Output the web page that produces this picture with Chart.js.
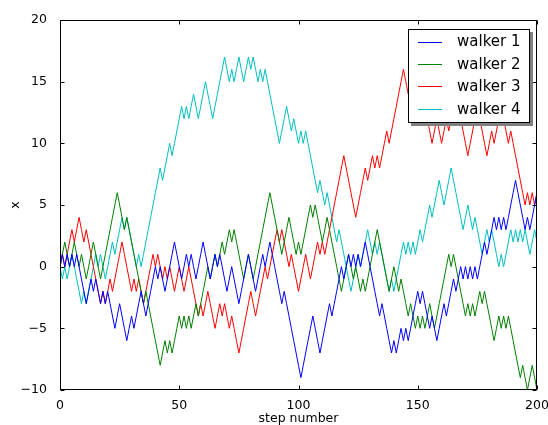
<!DOCTYPE html>
<html><head><meta charset="utf-8">
<script src="https://cdn.jsdelivr.net/npm/chart.js@4.4.1/dist/chart.umd.min.js"></script>
<style>html,body{margin:0;padding:0;background:#fff;}canvas{display:block;}</style>
</head><body>
<canvas id="c" width="548" height="425"></canvas>
<script>
// ---- data ----
const walker1 = [
  0,1,0,1,0,1,0,1,0,-1,
  -2,-3,-2,-1,-2,-1,-2,-3,-2,-3,
  -2,-3,-4,-5,-4,-3,-4,-5,-6,-5,
  -4,-5,-4,-3,-2,-3,-4,-3,-2,-1,
  0,-1,0,-1,-2,-1,0,1,2,1,
  0,-1,0,1,0,1,0,-1,0,1,
  2,1,0,-1,0,1,0,1,0,-1,
  -2,-1,0,-1,-2,-3,-2,-1,0,1,
  0,-1,-2,-1,0,1,0,1,2,1,
  0,-1,-2,-3,-2,-3,-4,-5,-6,-7,
  -8,-9,-8,-7,-6,-5,-4,-5,-6,-7,
  -6,-5,-4,-3,-4,-3,-2,-1,0,-1,
  0,1,0,1,0,1,0,1,2,1,
  0,-1,-2,-3,-4,-3,-4,-5,-6,-7,
  -6,-7,-6,-5,-6,-5,-6,-5,-4,-3,
  -2,-3,-2,-3,-4,-5,-4,-5,-6,-5,
  -4,-3,-4,-3,-2,-1,-2,-1,0,-1,
  0,-1,0,-1,0,-1,0,1,2,1,
  2,3,4,3,4,3,4,3,4,5,
  6,7,6,5,4,3,4,3,4,5,
  6
];
const walker2 = [
  0,1,2,1,0,1,2,1,0,1,
  0,-1,0,1,2,1,0,-1,0,1,
  2,3,4,5,6,5,4,3,4,3,
  2,1,0,-1,-2,-3,-2,-3,-4,-5,
  -6,-7,-8,-7,-6,-7,-6,-7,-6,-5,
  -4,-5,-4,-5,-4,-5,-4,-3,-4,-3,
  -2,-1,0,-1,0,1,0,1,2,1,
  2,3,2,3,2,1,0,-1,0,1,
  0,-1,0,1,2,3,4,5,6,5,
  4,3,2,1,2,3,4,3,2,1,
  2,1,2,3,4,5,4,5,4,3,
  2,3,4,3,2,1,0,-1,-2,-1,
  0,1,0,-1,0,-1,-2,-1,-2,-1,
  0,1,2,3,2,1,0,-1,-2,-1,
  0,-1,-2,-1,-2,-3,-4,-3,-4,-5,
  -4,-5,-4,-5,-4,-3,-4,-5,-4,-3,
  -2,-1,0,1,0,1,0,-1,-2,-3,
  -4,-3,-4,-3,-4,-3,-2,-3,-2,-3,
  -4,-5,-6,-5,-4,-5,-4,-5,-4,-5,
  -6,-7,-8,-9,-8,-9,-10,-9,-8,-9,
  -10
];
const walker3 = [
  0,1,0,1,2,3,2,3,4,3,
  2,3,2,1,0,-1,-2,-3,-2,-3,
  -2,-1,-2,-1,0,1,2,1,0,-1,
  -2,-1,-2,-1,-2,-3,-2,-1,0,1,
  0,1,0,-1,0,-1,0,-1,-2,-1,
  0,-1,-2,-1,0,-1,-2,-3,-4,-3,
  -4,-3,-2,-3,-4,-5,-4,-3,-4,-3,
  -4,-5,-4,-5,-6,-7,-6,-5,-4,-3,
  -2,-3,-4,-3,-2,-1,0,-1,0,1,
  2,3,2,3,2,1,0,1,0,-1,
  -2,-1,0,1,0,-1,0,1,2,1,
  2,1,2,3,4,5,6,7,8,9,
  8,7,6,5,4,5,6,7,8,7,
  8,9,8,9,8,9,10,11,10,11,
  12,13,14,15,16,15,14,15,14,13,
  14,13,12,13,12,11,10,11,12,11,
  10,11,12,11,12,13,12,13,12,11,
  10,9,10,11,12,13,12,11,10,9,
  10,11,10,11,12,13,12,11,10,11,
  10,9,8,7,6,5,6,5,6,5,
  6
];
const walker4 = [
  0,-1,0,-1,0,1,0,-1,-2,-3,
  -2,-3,-2,-1,0,1,0,1,0,-1,
  0,1,2,1,2,3,4,3,4,3,
  2,1,0,1,0,1,2,3,4,5,
  6,7,8,7,8,9,10,9,10,11,
  12,13,12,13,12,13,14,13,12,13,
  14,15,14,13,12,13,14,15,16,17,
  16,15,16,15,16,17,16,15,16,17,
  16,17,16,15,16,15,16,15,14,13,
  12,11,10,11,12,13,12,11,12,11,
  10,11,10,11,10,9,8,7,6,7,
  6,5,6,5,4,3,2,3,2,1,
  0,-1,-2,-1,0,1,0,1,2,3,
  2,1,2,1,2,1,0,-1,-2,-1,
  -2,-1,0,1,2,1,2,1,2,1,
  2,3,2,3,4,5,4,5,6,7,
  6,5,6,7,8,7,6,5,4,3,
  4,5,4,3,4,3,2,1,2,3,
  2,3,2,1,0,1,0,1,2,3,
  2,3,2,3,2,3,2,1,2,3,
  2
];
const seriesNames = ['walker 1', 'walker 2', 'walker 3', 'walker 4'];
const seriesColors = ['#0000ff', '#008000', '#ff0000', '#00bfbf'];
const xTickValues = [0, 50, 100, 150, 200];
const yTickValues = [-10, -5, 0, 5, 10, 15, 20];
const xTitle = 'step number';
const yTitle = 'x';

// ---- chart ----
const allSeries = [walker1, walker2, walker3, walker4];
const steps = walker1.map((_, i) => i);
const FONT = 'DejaVu Sans';
const tickFont = { family: FONT, size: 12.5 };

const framePlugin = {
  id: 'frame',
  afterDatasetsDraw(chart) {
    const { ctx, chartArea: a, scales: { x, y } } = chart;
    ctx.save();
    ctx.strokeStyle = '#000';
    ctx.lineWidth = 1;
    const L = Math.round(a.left) + 0.5, R = Math.round(a.right) - 0.5;
    const T = Math.round(a.top) + 0.5, B = Math.round(a.bottom) - 0.5;
    ctx.strokeRect(L, T, R - L, B - T);
    ctx.beginPath();
    const tl = 4;
    xTickValues.forEach(v => {
      const px = Math.round(x.getPixelForValue(v)) + 0.5;
      ctx.moveTo(px, B); ctx.lineTo(px, B - tl);
      ctx.moveTo(px, T); ctx.lineTo(px, T + tl);
    });
    yTickValues.forEach(v => {
      const py = Math.round(y.getPixelForValue(v)) + 0.5;
      ctx.moveTo(L, py); ctx.lineTo(L + tl, py);
      ctx.moveTo(R, py); ctx.lineTo(R - tl, py);
    });
    ctx.stroke();
    // axis titles
    ctx.fillStyle = '#000';
    ctx.font = '12.5px "' + FONT + '"';
    ctx.textAlign = 'center';
    ctx.textBaseline = 'alphabetic';
    ctx.fillText(xTitle, (a.left + a.right) / 2, 422);
    ctx.save();
    ctx.translate(19, (a.top + a.bottom) / 2);
    ctx.rotate(-Math.PI / 2);
    ctx.fillText(yTitle, 0, 0);
    ctx.restore();
    ctx.restore();
  },
  afterDraw(chart) {
    const { ctx } = chart;
    const bx = 408, by = 29, bw = 122, bh = 94;
    ctx.save();
    ctx.fillStyle = '#808080';
    ctx.fillRect(bx + 3, by + 3, bw, bh);
    ctx.fillStyle = '#fff';
    ctx.fillRect(bx, by, bw, bh);
    ctx.strokeStyle = '#000';
    ctx.lineWidth = 1;
    ctx.strokeRect(bx + 0.5, by + 0.5, bw - 1, bh - 1);
    ctx.font = '15px "' + FONT + '"';
    ctx.textAlign = 'left';
    ctx.textBaseline = 'middle';
    seriesNames.forEach((name, i) => {
      const ry = 41.5 + i * 22.4;
      ctx.strokeStyle = seriesColors[i];
      ctx.lineWidth = 1;
      ctx.beginPath();
      ctx.moveTo(418, Math.round(ry) + 0.5);
      ctx.lineTo(442, Math.round(ry) + 0.5);
      ctx.stroke();
      ctx.fillStyle = '#000';
      ctx.fillText(name, 457, ry + 1);
    });
    ctx.restore();
  }
};

new Chart(document.getElementById('c'), {
  type: 'line',
  data: {
    datasets: allSeries.map((vals, i) => ({
      label: seriesNames[i],
      data: vals.map((v, k) => ({ x: steps[k], y: v })),
      borderColor: seriesColors[i],
      backgroundColor: seriesColors[i],
      borderWidth: 1,
      pointRadius: 0,
      tension: 0,
      fill: false
    }))
  },
  options: {
    responsive: false,
    animation: false,
    devicePixelRatio: 1,
    layout: { padding: { top: 20, right: 11, left: 0, bottom: 0 } },
    plugins: { legend: { display: false }, tooltip: { enabled: false } },
    scales: {
      x: {
        type: 'linear', min: 0, max: 200,
        afterBuildTicks: s => { s.ticks = xTickValues.map(v => ({ value: v })); },
        afterFit: s => { s.height = 35; s.paddingLeft = 0; s.paddingRight = 0; },
        grid: { display: false },
        border: { display: false },
        ticks: { font: tickFont, color: '#000', padding: 0, maxRotation: 0, autoSkip: false }
      },
      y: {
        type: 'linear', min: -10, max: 20,
        afterBuildTicks: s => { s.ticks = yTickValues.map(v => ({ value: v })); },
        afterFit: s => { s.width = 60; s.paddingTop = 0; s.paddingBottom = 0; },
        grid: { display: false },
        border: { display: false },
        ticks: { font: tickFont, color: '#000', padding: 5, autoSkip: false,
          callback: v => String(v).replace('-', '\u2212') }
      }
    }
  },
  plugins: [framePlugin]
});
</script>
</body></html>
